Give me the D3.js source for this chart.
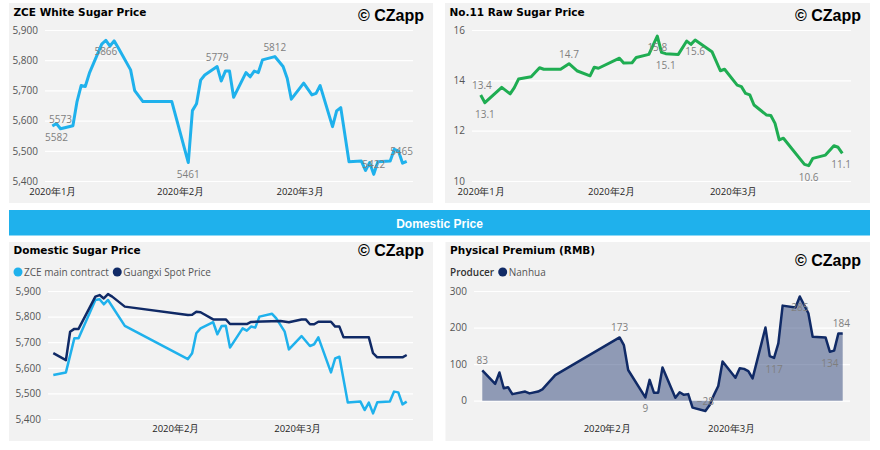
<!DOCTYPE html>
<html>
<head>
<meta charset="utf-8">
<script src="https://cdn.jsdelivr.net/npm/d3@7"></script>
<style>
body { margin: 0; background: #ffffff; }
text { font-family: "Open Sans", sans-serif; }
.title { font-family: "DejaVu Sans", sans-serif; font-weight: bold; font-size: 10.5px; fill: #000; }
.brand { font-family: "Liberation Sans", Arial, sans-serif; font-weight: bold; font-size: 16px; fill: #000; }
.band { font-family: "Liberation Sans", Arial, sans-serif; font-weight: bold; font-size: 12px; fill: #fff; }
.ylab { font-size: 10px; fill: #555; }
.xlab { font-size: 9.5px; fill: #252423; }
.datalabel { font-size: 10px; fill: #7f7f7f; }
.legend { font-size: 10px; fill: #555; }
</style>
</head>
<body>
<svg id="dashboard" width="880" height="450"></svg>
<script>
/*
/   Data
*/

// ZCE white sugar (yuan/t)
const zceDates = [
    "2020-01-01", "2020-01-02", "2020-01-03", "2020-01-06", "2020-01-07", "2020-01-08", "2020-01-09", "2020-01-10",
    "2020-01-13", "2020-01-14", "2020-01-15", "2020-01-16", "2020-01-17", "2020-01-20", "2020-01-21", "2020-01-23",
    "2020-01-30", "2020-02-03", "2020-02-04", "2020-02-05", "2020-02-06", "2020-02-07", "2020-02-10", "2020-02-11",
    "2020-02-12", "2020-02-13", "2020-02-14", "2020-02-17", "2020-02-18", "2020-02-19", "2020-02-20", "2020-02-21",
    "2020-02-24", "2020-02-26", "2020-02-27", "2020-02-28", "2020-03-02", "2020-03-04", "2020-03-05", "2020-03-06",
    "2020-03-09", "2020-03-10", "2020-03-11", "2020-03-13", "2020-03-16", "2020-03-17", "2020-03-18", "2020-03-19",
    "2020-03-20", "2020-03-23", "2020-03-24", "2020-03-25", "2020-03-26", "2020-03-27"
];
const zceValues = [
    5582, 5590, 5573, 5583, 5663, 5716, 5713, 5757,
    5853, 5866, 5847, 5864, 5841, 5768, 5699, 5663,
    5663, 5461, 5633, 5656, 5734, 5751, 5779, 5731,
    5764, 5764, 5677, 5759, 5745, 5764, 5759, 5801,
    5812, 5779, 5740, 5671, 5724, 5685, 5690, 5716,
    5580, 5632, 5643, 5464, 5466, 5435, 5461, 5422,
    5464, 5466, 5505, 5499, 5459, 5465
];
const zceLabels = [
    ["2020-01-01", "below"], ["2020-01-03", "above"], ["2020-01-14", "below"], ["2020-02-03", "below"],
    ["2020-02-10", "above"], ["2020-02-24", "above"], ["2020-03-19", "above"], ["2020-03-27", "above"]
];
const zceTicks = [5400, 5500, 5600, 5700, 5800, 5900];

// ICE No.11 raw sugar (c/lb)
const rawDates = [
    "2020-01-01", "2020-01-02", "2020-01-06", "2020-01-08", "2020-01-09", "2020-01-10", "2020-01-13", "2020-01-15",
    "2020-01-16", "2020-01-20", "2020-01-22", "2020-01-24", "2020-01-27", "2020-01-28", "2020-01-29", "2020-02-03",
    "2020-02-04", "2020-02-06", "2020-02-07", "2020-02-10", "2020-02-12", "2020-02-13", "2020-02-14", "2020-02-17",
    "2020-02-19", "2020-02-20", "2020-02-21", "2020-02-25", "2020-02-27", "2020-02-28", "2020-03-02", "2020-03-03",
    "2020-03-04", "2020-03-05", "2020-03-06", "2020-03-09", "2020-03-10", "2020-03-11", "2020-03-12", "2020-03-13",
    "2020-03-18", "2020-03-19", "2020-03-20", "2020-03-23", "2020-03-25", "2020-03-26", "2020-03-27"
];
const rawValues = [
    13.42, 13.11, 13.72, 13.46, 13.71, 14.05, 14.14, 14.50,
    14.44, 14.44, 14.66, 14.37, 14.18, 14.52, 14.48, 14.88,
    14.69, 14.70, 14.91, 15.03, 15.76, 15.11, 15.06, 15.03,
    15.56, 15.43, 15.60, 15.14, 14.38, 14.44, 13.81, 13.75,
    13.48, 13.42, 13.02, 12.62, 12.60, 12.29, 11.63, 11.70,
    10.66, 10.61, 10.90, 11.03, 11.40, 11.34, 11.10
];
const rawLabels = [
    ["2020-01-01", "above"], ["2020-01-02", "below"], ["2020-01-22", "above"], ["2020-02-12", "below"],
    ["2020-02-14", "below"], ["2020-02-21", "below"], ["2020-03-19", "below"], ["2020-03-27", "below"]
];
const rawTicks = [10, 12, 14, 16];

// Domestic: ZCE main contract and Guangxi spot
const mainDates = [
    "2020-01-03", "2020-01-06", "2020-01-08", "2020-01-09", "2020-01-13", "2020-01-14", "2020-01-15", "2020-01-16",
    "2020-01-20", "2020-02-04", "2020-02-05", "2020-02-06", "2020-02-07", "2020-02-10", "2020-02-11", "2020-02-12",
    "2020-02-13", "2020-02-14", "2020-02-17", "2020-02-18", "2020-02-19", "2020-02-20", "2020-02-21", "2020-02-24",
    "2020-02-25", "2020-02-27", "2020-02-28", "2020-03-02", "2020-03-04", "2020-03-05", "2020-03-06", "2020-03-09",
    "2020-03-10", "2020-03-11", "2020-03-13", "2020-03-16", "2020-03-17", "2020-03-18", "2020-03-19", "2020-03-20",
    "2020-03-23", "2020-03-24", "2020-03-25", "2020-03-26", "2020-03-27"
];
const mainValues = [
    5572, 5582, 5715, 5715, 5865, 5868, 5848, 5865,
    5764, 5634, 5657, 5735, 5754, 5778, 5731, 5763,
    5764, 5679, 5754, 5745, 5761, 5757, 5800, 5811,
    5793, 5741, 5672, 5724, 5685, 5692, 5719, 5582,
    5637, 5643, 5464, 5468, 5435, 5464, 5422, 5465,
    5468, 5507, 5504, 5457, 5468
];
const spotDates = [
    "2020-01-03", "2020-01-06", "2020-01-07", "2020-01-08", "2020-01-09", "2020-01-13", "2020-01-14", "2020-01-15",
    "2020-01-16", "2020-01-17", "2020-01-20", "2020-02-04", "2020-02-05", "2020-02-06", "2020-02-07", "2020-02-10",
    "2020-02-13", "2020-02-14", "2020-02-18", "2020-02-19", "2020-02-26", "2020-02-28", "2020-03-02", "2020-03-03",
    "2020-03-04", "2020-03-05", "2020-03-06", "2020-03-09", "2020-03-10", "2020-03-11", "2020-03-12", "2020-03-18",
    "2020-03-19", "2020-03-20", "2020-03-26", "2020-03-27"
];
const spotValues = [
    5657, 5630, 5741, 5752, 5752, 5878, 5884, 5871,
    5888, 5878, 5839, 5806, 5807, 5819, 5817, 5789,
    5789, 5771, 5771, 5779, 5783, 5778, 5789, 5789,
    5770, 5770, 5780, 5780, 5761, 5761, 5719, 5719,
    5657, 5641, 5641, 5650
];
const domesticTicks = [5400, 5500, 5600, 5700, 5800, 5900];

// Physical premium, Nanhua (RMB)
const premDates = [
    "2020-01-03", "2020-01-06", "2020-01-07", "2020-01-08", "2020-01-09", "2020-01-10", "2020-01-13", "2020-01-14",
    "2020-01-16", "2020-01-17", "2020-01-20", "2020-02-04", "2020-02-05", "2020-02-06", "2020-02-10", "2020-02-11",
    "2020-02-12", "2020-02-13", "2020-02-14", "2020-02-17", "2020-02-18", "2020-02-19", "2020-02-20", "2020-02-21",
    "2020-02-24", "2020-02-25", "2020-02-26", "2020-02-27", "2020-02-28", "2020-03-02", "2020-03-03", "2020-03-04",
    "2020-03-05", "2020-03-06", "2020-03-09", "2020-03-10", "2020-03-11", "2020-03-12", "2020-03-13", "2020-03-16",
    "2020-03-17", "2020-03-19", "2020-03-20", "2020-03-23", "2020-03-24", "2020-03-25", "2020-03-26", "2020-03-27"
];
const premValues = [
    83, 46, 77, 34, 37, 18, 25, 20,
    25, 31, 70, 173, 152, 84, 9, 57,
    22, 22, 91, 8, 23, 16, 18, -19,
    -28, -12, 16, 40, 107, 63, 89, 87,
    81, 61, 200, 122, 117, 157, 260, 255,
    285, 239, 175, 173, 134, 137, 184, 184
];
const premLabels = [
    ["2020-01-03", "above"], ["2020-02-04", "above"], ["2020-02-10", "below"], ["2020-02-24", "above"],
    ["2020-03-11", "below"], ["2020-03-17", "below"], ["2020-03-24", "below"], ["2020-03-27", "above"]
];
const premTicks = [0, 100, 200, 300];

/*
/   Colours
*/

const lightBlue = "#1fb1ec";
const green = "#1fad52";
const navy = "#102a66";
const panelGrey = "#f2f2f2";

/*
/   Helpers
*/

const svg = d3.select("#dashboard");
const parseDate = d3.timeParse("%Y-%m-%d");

function toPoints(dates, values) {
    return dates.map((d, i) => ({ date: parseDate(d), value: values[i] }));
}

function monthLabel(d) {
    return d.getFullYear() + "年" + (d.getMonth() + 1) + "月";
}

function drawPanel(p) {
    svg.append("rect")
        .attr("x", p.x).attr("y", p.y)
        .attr("width", p.w).attr("height", p.h)
        .attr("fill", panelGrey);

    svg.append("text")
        .attr("class", "title")
        .attr("x", p.x + 4.5)
        .attr("y", p.titleY)
        .text(p.title);

    svg.append("text")
        .attr("class", "brand")
        .attr("text-anchor", "end")
        .attr("x", p.x + p.w - 9)
        .attr("y", p.brandY)
        .text("© CZapp");
}

function makeScales(p, points, yTicks) {
    const x = d3.scaleTime()
        .domain(d3.extent(points, d => d.date))
        .range([p.dataLeft, p.dataRight]);

    const y = d3.scaleLinear()
        .domain([yTicks[0], yTicks[yTicks.length - 1]])
        .range([p.yBottom, p.yTop]);

    return { x, y };
}

function drawAxes(p, x, y, yTicks, yFormat) {
    // y axis doubles as the gridlines
    svg.append("g")
        .attr("transform", `translate(${p.gridLeft},0)`)
        .call(d3.axisLeft(y)
            .tickValues(yTicks)
            .tickFormat(yFormat)
            .tickSize(-(p.gridRight - p.gridLeft))
            .tickPadding(7))
        .call(g => g.select(".domain").remove())
        .call(g => g.selectAll(".tick line").attr("stroke", "#ffffff").attr("stroke-width", 1.2))
        .call(g => g.selectAll(".tick text").attr("class", "ylab").attr("fill", null));

    svg.append("g")
        .attr("transform", `translate(0,${p.xLabelY})`)
        .call(d3.axisBottom(x)
            .ticks(d3.timeMonth.every(1))
            .tickFormat(monthLabel)
            .tickSize(0)
            .tickPadding(0))
        .call(g => g.select(".domain").remove())
        .call(g => g.selectAll(".tick text").attr("class", "xlab").attr("fill", null).attr("dy", null).attr("y", 0));
}

function drawLine(points, x, y, colour, width) {
    const line = d3.line()
        .x(d => x(d.date))
        .y(d => y(d.value));

    svg.append("path")
        .datum(points)
        .attr("d", line)
        .attr("fill", "none")
        .attr("stroke", colour)
        .attr("stroke-width", width)
        .attr("stroke-linejoin", "round");
}

function drawLabels(p, points, labels, x, y, fmt) {
    labels.forEach(([date, side]) => {
        const pt = points.find(d => +d.date === +parseDate(date));
        const t = svg.append("text")
            .attr("class", "datalabel")
            .attr("text-anchor", "middle")
            .text(fmt(pt.value));

        // keep labels inside the plot, like the original does
        const half = t.node().getComputedTextLength() / 2;
        const cx = Math.max(p.gridLeft + half, Math.min(p.gridRight - half, x(pt.date)));

        t.attr("x", cx)
         .attr("y", y(pt.value) + (side === "above" ? -6 : 15));
    });
}

function drawLegend(startX, cy, items) {
    let cursor = startX;
    items.forEach(item => {
        if (item.colour) {
            svg.append("circle")
                .attr("cx", cursor + 4.5)
                .attr("cy", cy)
                .attr("r", 4.5)
                .attr("fill", item.colour);
            cursor += 10.5;
        }
        const t = svg.append("text")
            .attr("class", "legend")
            .attr("x", cursor)
            .attr("y", cy + 3.5)
            .style("font-weight", item.bold ? 600 : null)
            .style("fill", item.bold ? "#333" : null)
            .text(item.text);
        cursor += t.node().getComputedTextLength() + 4;
    });
}

/*
/   Panel layout
*/

const zcePanel = {
    x: 9, y: 3, w: 424, h: 200, title: "ZCE White Sugar Price", titleY: 16, brandY: 21,
    gridLeft: 45, gridRight: 413, dataLeft: 52.3, dataRight: 406.7, yTop: 30, yBottom: 181, xLabelY: 195
};
const rawPanel = {
    x: 445, y: 3, w: 425, h: 200, title: "No.11 Raw Sugar Price", titleY: 16, brandY: 21,
    gridLeft: 472, gridRight: 851, dataLeft: 480.7, dataRight: 842.3, yTop: 30, yBottom: 181, xLabelY: 195
};
const domesticPanel = {
    x: 9, y: 242, w: 424, h: 199, title: "Domestic Sugar Price", titleY: 253.5, brandY: 256,
    gridLeft: 48, gridRight: 413, dataLeft: 53.3, dataRight: 406.7, yTop: 291, yBottom: 419, xLabelY: 432
};
const premPanel = {
    x: 445.5, y: 242, w: 424.5, h: 199, title: "Physical Premium (RMB)", titleY: 253.5, brandY: 266,
    gridLeft: 474, gridRight: 850, dataLeft: 482.3, dataRight: 842.7, yTop: 291, yBottom: 400.7, xLabelY: 432
};

/*
/   Top left: ZCE white sugar
*/

function drawZce() {
    const p = zcePanel;
    const points = toPoints(zceDates, zceValues);
    const { x, y } = makeScales(p, points, zceTicks);

    drawPanel(p);
    drawAxes(p, x, y, zceTicks, d3.format(","));
    drawLine(points, x, y, lightBlue, 3);
    drawLabels(p, points, zceLabels, x, y, d3.format("d"));
}

/*
/   Top right: No.11 raw sugar
*/

function drawRaw() {
    const p = rawPanel;
    const points = toPoints(rawDates, rawValues);
    const { x, y } = makeScales(p, points, rawTicks);

    drawPanel(p);
    drawAxes(p, x, y, rawTicks, d3.format("d"));
    drawLine(points, x, y, green, 3);
    drawLabels(p, points, rawLabels, x, y, d3.format(".1f"));
}

/*
/   Section band
*/

function drawBand() {
    svg.append("rect")
        .attr("x", 9).attr("y", 210)
        .attr("width", 861).attr("height", 25.5)
        .attr("fill", lightBlue);

    svg.append("text")
        .attr("class", "band")
        .attr("x", 439.5)
        .attr("y", 227.5)
        .attr("text-anchor", "middle")
        .text("Domestic Price");
}

/*
/   Bottom left: domestic prices
*/

function drawDomestic() {
    const p = domesticPanel;
    const mainPoints = toPoints(mainDates, mainValues);
    const spotPoints = toPoints(spotDates, spotValues);
    const { x, y } = makeScales(p, mainPoints.concat(spotPoints), domesticTicks);

    drawPanel(p);
    drawLegend(13.5, 272, [
        { text: "ZCE main contract", colour: lightBlue },
        { text: "Guangxi Spot Price", colour: navy }
    ]);
    drawAxes(p, x, y, domesticTicks, d3.format(","));
    drawLine(mainPoints, x, y, lightBlue, 2.5);
    drawLine(spotPoints, x, y, navy, 2.5);
}

/*
/   Bottom right: physical premium
*/

function drawPremium() {
    const p = premPanel;
    const points = toPoints(premDates, premValues);
    const { x, y } = makeScales(p, points, premTicks);

    drawPanel(p);
    drawLegend(450, 272, [
        { text: "Producer", bold: true },
        { text: "Nanhua", colour: navy }
    ]);
    drawAxes(p, x, y, premTicks, d3.format("d"));

    const area = d3.area()
        .x(d => x(d.date))
        .y0(y(0))
        .y1(d => y(d.value));

    svg.append("path")
        .datum(points)
        .attr("d", area)
        .attr("fill", navy)
        .attr("fill-opacity", 0.44);

    drawLine(points, x, y, navy, 2.5);
    drawLabels(p, points, premLabels, x, y, d3.format("d"));
}

// Entry point
drawZce();
drawRaw();
drawBand();
drawDomestic();
drawPremium();
</script>
</body>
</html>
